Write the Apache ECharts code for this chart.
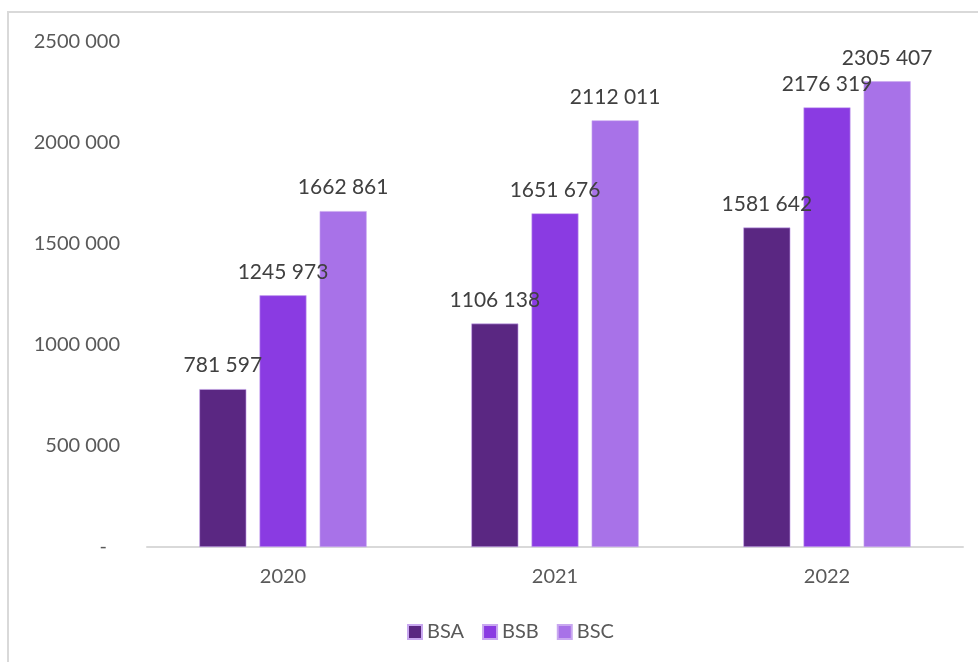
<!DOCTYPE html>
<html>
<head>
<meta charset="utf-8">
<script src="https://cdn.jsdelivr.net/npm/echarts@6/dist/echarts.min.js"></script>
<style>
  html, body { margin: 0; padding: 0; background: #ffffff; }
  #chart { width: 978px; height: 662px; }
</style>
</head>
<body>
<div id="chart"></div>
<script>
const years = ["2020", "2021", "2022"];
const bsa = [781597, 1106138, 1581642];
const bsb = [1245973, 1651676, 2176319];
const bsc = [1662861, 2112011, 2305407];
const seriesNames = ["BSA", "BSB", "BSC"];
const colors = ["#5a2782", "#8a3be2", "#a872e8"];

// "2500 000" style, 0 shown as dash
function fmt(v) {
  if (v === 0) return "-";
  const th = Math.floor(v / 1000);
  const rest = String(v % 1000).padStart(3, "0");
  return th > 0 ? th + " " + rest : String(v % 1000);
}

const chart = echarts.init(document.getElementById("chart"));

const series = [bsa, bsb, bsc].map((data, i) => ({
  name: seriesNames[i],
  type: "bar",
  data: data,
  barWidth: 47,
  barGap: "28%",
  itemStyle: { color: colors[i], borderColor: "#c9a8f0", borderWidth: 0.6 },
  label: {
    show: true,
    position: "top",
    distance: 13,
    color: "#404040",
    fontSize: 21,
    fontFamily: "Lato",
    formatter: p => fmt(p.value)
  }
}));

chart.setOption({
  animation: false,
  textStyle: { fontFamily: "Lato" },
  graphic: [{
    type: "rect",
    shape: { x: 8, y: 12, width: 990, height: 670 },
    style: { fill: "none", stroke: "#d9d9d9", lineWidth: 2 },
    silent: true
  }],
  grid: { left: 147, right: 15, top: 42, bottom: 115 },
  legend: {
    top: 617,
    left: 402,
    itemWidth: 14,
    itemHeight: 14,
    itemGap: 18,
    icon: "rect",
    textStyle: { color: "#595959", fontSize: 20, fontFamily: "Lato" },
    data: seriesNames
  },
  xAxis: {
    type: "category",
    data: years,
    axisLine: { lineStyle: { color: "#d9d9d9", width: 2 } },
    axisTick: { show: false },
    axisLabel: { color: "#595959", fontSize: 20, margin: 20 }
  },
  yAxis: {
    type: "value",
    min: 0,
    max: 2500000,
    interval: 500000,
    splitLine: { show: false },
    axisLine: { show: false },
    axisTick: { show: false },
    axisLabel: {
      color: "#595959",
      fontSize: 20,
      margin: 27,
      formatter: v => v === 0 ? "{d|-}" : fmt(v),
      rich: { d: { padding: [0, 13, 0, 0], fontSize: 20, color: "#595959" } }
    }
  },
  series: series
});
</script>
</body>
</html>
